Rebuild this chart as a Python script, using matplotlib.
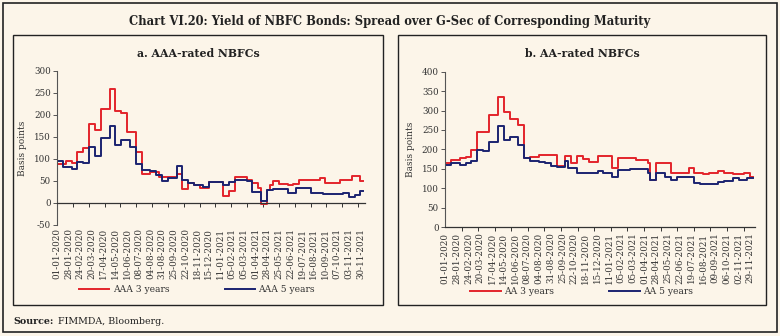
import numpy as np
import matplotlib.pyplot as plt
from matplotlib.patches import Rectangle

# Weekly spreads over G-Sec (basis points), Jan 2020 - Dec 2021
aaa_3y = [88, 88, 88, 96, 96, 92, 92, 115, 115, 124,
          124, 179, 179, 166, 166, 213, 213, 213, 258, 258,
          209, 209, 204, 204, 161, 161, 161, 117, 117, 65,
          65, 65, 70, 70, 70, 60, 60, 60, 58, 58,
          58, 66, 66, 31, 31, 45, 45, 41, 41, 35,
          35, 35, 47, 47, 47, 47, 47, 16, 16, 28,
          28, 58, 58, 58, 58, 53, 53, 45, 45, 35,
          -2, -2, 30, 41, 50, 50, 44, 44, 44, 40,
          40, 44, 44, 52, 52, 52, 52, 52, 52, 52,
          57, 57, 45, 45, 45, 45, 45, 52, 52, 52,
          52, 61, 61, 61, 49, 49]
aaa_5y = [95, 95, 82, 82, 82, 78, 78, 93, 93, 90,
          90, 128, 128, 107, 107, 147, 147, 147, 176, 176,
          132, 132, 143, 143, 143, 127, 127, 88, 88, 76,
          76, 76, 72, 72, 64, 64, 50, 50, 56, 56,
          56, 83, 83, 52, 52, 46, 46, 42, 42, 42,
          37, 37, 47, 47, 47, 47, 47, 41, 41, 48,
          48, 52, 52, 52, 52, 50, 50, 26, 26, 26,
          5, 5, 30, 30, 31, 31, 31, 31, 31, 22,
          22, 22, 33, 33, 33, 33, 33, 23, 23, 23,
          23, 20, 20, 20, 20, 20, 20, 20, 23, 23,
          14, 14, 18, 18, 27, 27]
aa_3y = [164, 164, 173, 173, 173, 177, 177, 180, 180, 198,
         198, 245, 245, 245, 245, 289, 289, 289, 334, 334,
         296, 296, 278, 278, 278, 262, 262, 178, 178, 180,
         180, 180, 185, 185, 185, 185, 185, 185, 157, 157,
         157, 183, 183, 164, 164, 183, 183, 174, 174, 168,
         168, 168, 182, 182, 182, 182, 182, 151, 151, 177,
         177, 177, 177, 177, 177, 173, 173, 173, 173, 164,
         121, 121, 164, 164, 164, 164, 164, 140, 140, 140,
         140, 140, 140, 151, 151, 140, 140, 140, 136, 136,
         140, 140, 140, 143, 143, 138, 138, 138, 136, 136,
         136, 136, 140, 140, 130, 130]
aa_5y = [160, 160, 164, 164, 164, 160, 160, 166, 166, 171,
         171, 198, 198, 196, 196, 220, 220, 220, 259, 259,
         225, 225, 231, 231, 231, 211, 211, 179, 179, 171,
         171, 171, 168, 168, 164, 164, 158, 158, 155, 155,
         155, 170, 151, 151, 151, 140, 140, 140, 140, 140,
         138, 138, 143, 143, 138, 138, 138, 130, 130, 147,
         147, 147, 147, 149, 149, 149, 149, 149, 149, 138,
         121, 121, 138, 138, 138, 130, 130, 121, 121, 130,
         130, 130, 130, 130, 130, 114, 114, 111, 111, 111,
         111, 111, 111, 117, 117, 119, 119, 119, 127, 127,
         121, 121, 121, 127, 127, 127]

dates_a = ["01-01-2020", "28-01-2020", "24-02-2020", "20-03-2020", "17-04-2020",
           "14-05-2020", "10-06-2020", "08-07-2020", "04-08-2020", "31-08-2020",
           "25-09-2020", "22-10-2020", "18-11-2020", "15-12-2020", "11-01-2021",
           "05-02-2021", "05-03-2021", "01-04-2021", "28-04-2021", "25-05-2021",
           "22-06-2021", "19-07-2021", "16-08-2021", "10-09-2021", "07-10-2021",
           "03-11-2021", "30-11-2021"]
dates_b = ["01-01-2020", "28-01-2020", "24-02-2020", "20-03-2020", "17-04-2020",
           "14-05-2020", "10-06-2020", "08-07-2020", "04-08-2020", "31-08-2020",
           "25-09-2020", "22-10-2020", "18-11-2020", "15-12-2020", "11-01-2021",
           "05-02-2021", "05-03-2021", "01-04-2021", "28-04-2021", "25-05-2021",
           "22-06-2021", "19-07-2021", "16-08-2021", "09-09-2021", "06-10-2021",
           "02-11-2021", "29-11-2021"]

BG = "#fcf5e9"
RED = "#e3242b"
NAVY = "#1b2370"
TXT = "#333333"

plt.rcParams["font.family"] = ["DejaVu Serif"]
plt.rcParams["axes.unicode_minus"] = False

fig = plt.figure(figsize=(7.8, 3.36), dpi=100, facecolor=BG)

# frames
fig.add_artist(Rectangle((0.004, 0.012), 0.992, 0.978, transform=fig.transFigure,
                         fill=False, lw=1.2, ec="#222222"))
fig.add_artist(Rectangle((0.0167, 0.0923), 0.4744, 0.8036, transform=fig.transFigure,
                         fill=False, lw=1.0, ec="#222222"))
fig.add_artist(Rectangle((0.5103, 0.0923), 0.4718, 0.8036, transform=fig.transFigure,
                         fill=False, lw=1.0, ec="#222222"))

fig.text(0.5, 0.9375, "Chart VI.20: Yield of NBFC Bonds: Spread over G-Sec of Corresponding Maturity",
         ha="center", va="center", fontsize=8.3, fontweight="bold", color="#222222")
fig.text(0.0167, 0.0446, "Source:", ha="left", va="center", fontsize=6.8,
         fontweight="bold", color="#222222")
fig.text(0.0744, 0.0446, "FIMMDA, Bloomberg.", ha="left", va="center", fontsize=6.8,
         color="#222222")


def draw_panel(rect, title, title_x, s3, s5, labels, names, ylim, yticks,
               tick_step, label_pad, legend_xy):
    ax = fig.add_axes(rect)
    ax.set_facecolor(BG)
    x = np.arange(len(s3))
    ax.plot(x, s3, drawstyle="steps-post", color=RED, lw=1.4, label=names[0])
    ax.plot(x, s5, drawstyle="steps-post", color=NAVY, lw=1.4, label=names[1])

    ax.set_xlim(0, len(s3) - 0.4)
    ax.set_ylim(*ylim)
    ax.set_yticks(yticks)

    for side in ("top", "right"):
        ax.spines[side].set_visible(False)
    ax.spines["left"].set_color("#555555")
    ax.spines["left"].set_linewidth(0.8)
    ax.spines["bottom"].set_position(("data", 0))
    ax.spines["bottom"].set_color("#333333")
    ax.spines["bottom"].set_linewidth(0.9)

    ax.set_xticks(np.arange(0, 4 * len(labels), 4))
    ax.set_xticklabels(labels, rotation=90, fontsize=6.3, color=TXT)
    ax.set_xticks(np.arange(tick_step, len(s3), tick_step), minor=True)
    ax.tick_params(axis="x", which="major", length=0, pad=label_pad)
    ax.tick_params(axis="x", which="minor", length=3, width=0.7, color="#333333")
    ax.tick_params(axis="y", length=3, width=0.7, color="#555555",
                   labelsize=6.3, labelcolor=TXT, pad=1.5)

    ax.set_ylabel("Basis points", fontsize=6.5, color=TXT)
    ax.yaxis.set_label_coords(-0.097, 0.5)

    fig.text(title_x, 0.842, title, ha="center", va="center", fontsize=7.8,
             fontweight="bold", color="#222222")

    ax.legend(loc="center", bbox_to_anchor=legend_xy, bbox_transform=fig.transFigure,
              ncol=2, frameon=False, fontsize=6.6, handlelength=3.3,
              handletextpad=0.4, columnspacing=6.0, labelcolor=TXT)
    return ax


draw_panel([0.0731, 0.3304, 0.395, 0.4583], "a. AAA-rated NBFCs", 0.254,
           aaa_3y, aaa_5y, dates_a, ["AAA 3 years", "AAA 5 years"],
           (-50, 300), np.arange(-50, 301, 50), 5.43, 18.0, (0.2526, 0.137))
draw_panel([0.5705, 0.3244, 0.3974, 0.4622], "b. AA-rated NBFCs", 0.746,
           aa_3y, aa_5y, dates_b, ["AA 3 years", "AA 5 years"],
           (0, 400), np.arange(0, 401, 50), 5.65, 4.0, (0.746, 0.131))

fig.savefig("out.png", dpi=100, facecolor=BG)
